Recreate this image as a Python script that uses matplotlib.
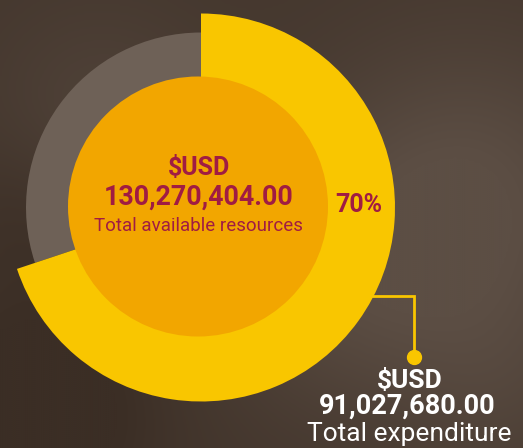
import numpy as np
import matplotlib
matplotlib.use('Agg')
import matplotlib.pyplot as plt
from matplotlib.patches import Circle
from matplotlib.colors import LinearSegmentedColormap

plt.rcParams['font.family'] = ['Roboto', 'DejaVu Sans']

# data
total_available = 130270404.00
total_expenditure = 91027680.00
labels = ['Total expenditure', 'Remaining']
values = [total_expenditure, total_available - total_expenditure]
pct = round(100 * total_expenditure / total_available)

yellow = '#F9C600'
orange = '#F2A600'
crimson = '#A01C43'
ring_grey = '#6E6157'

W, H = 523, 448
fig = plt.figure(figsize=(W / 100, H / 100), dpi=100)
ax = fig.add_axes([0, 0, 1, 1])

# brown background with soft lighter patches
xx, yy = np.meshgrid(np.linspace(0, W, 262), np.linspace(0, H, 224))
bg = np.full_like(xx, 0.3)
for bx, by, s, a in [(470, 250, 110, 0.7), (330, 160, 90, 0.4), (100, 330, 80, 0.3),
                     (500, 60, 80, 0.3), (40, 40, 70, -0.3), (30, 20, 120, -0.2),
                     (30, 230, 60, -0.2)]:
    bg += a * np.exp(-((xx - bx) ** 2 + (yy - by) ** 2) / (2 * s ** 2))
bg = np.clip(bg, 0, 1)
cmap = LinearSegmentedColormap.from_list('bg', ['#3B2E25', '#5C4E44'])
ax.imshow(bg, cmap=cmap, extent=(0, W, 0, H), origin='lower', aspect='auto',
          interpolation='bicubic', vmin=0, vmax=1, zorder=0)

cx, cy = 201, H - 207.5

# grey ring (remaining part)
ax.pie(values, colors=['none', ring_grey], radius=175, center=(cx, cy),
       startangle=90, counterclock=False, frame=False,
       wedgeprops=dict(width=60, linewidth=0))
# yellow wedge (expenditure)
ax.pie(values, colors=[yellow, 'none'], radius=194, center=(cx, cy),
       startangle=90, counterclock=False, frame=False,
       wedgeprops=dict(width=80, linewidth=0))

ax.add_patch(Circle((198, H - 206.5), 130, facecolor=orange, edgecolor='none', zorder=5))

ax.text(199, H - 168, '$USD', ha='center', va='center', fontsize=18,
        fontweight='bold', color=crimson, zorder=6)
ax.text(199, H - 197, f'{total_available:,.2f}', ha='center', va='center', fontsize=19.3,
        fontweight='bold', color=crimson, zorder=6)
ax.text(198, H - 226, 'Total available resources', ha='center', va='center',
        fontsize=13.5, color=crimson, zorder=6)
ax.text(359, H - 205, f'{pct}%', ha='center', va='center', fontsize=18,
        fontweight='bold', color=crimson, zorder=6)

# leader line
ax.plot([373, 414, 414], [H - 296, H - 296, H - 357], color=yellow, lw=2,
        solid_joinstyle='miter', zorder=4)
ax.plot([414], [H - 357], 'o', color=yellow, ms=10, zorder=4)

ax.text(410, H - 381, '$USD', ha='center', va='center', fontsize=19,
        fontweight='bold', color='white', zorder=6)
ax.text(407, H - 406, f'{total_expenditure:,.2f}', ha='center', va='center',
        fontsize=19.5, fontweight='bold', color='white', zorder=6)
ax.text(409, H - 434, labels[0], ha='center', va='center', fontsize=19,
        color='white', zorder=6)

ax.set_xlim(0, W)
ax.set_ylim(0, H)
ax.set_aspect('auto')
ax.axis('off')

fig.savefig('out.png', dpi=100)
